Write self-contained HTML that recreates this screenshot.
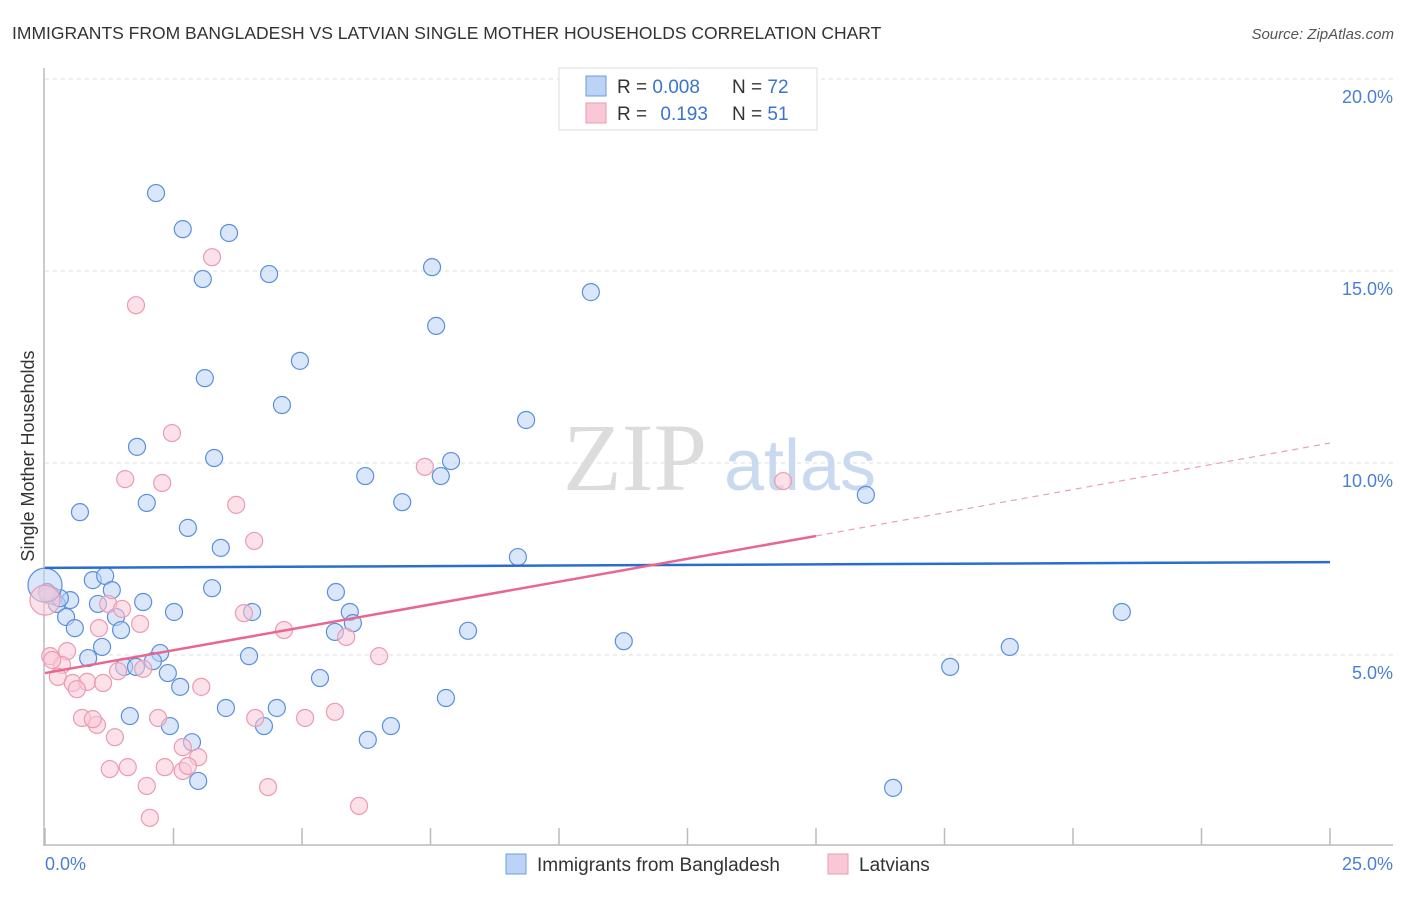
<!DOCTYPE html>
<html><head><meta charset="utf-8"><style>
body{margin:0;background:#fff;font-family:"Liberation Sans",sans-serif;}
svg text{font-family:"Liberation Sans",sans-serif;}
</style></head><body>
<svg id="chart" width="1406" height="892" xmlns="http://www.w3.org/2000/svg">
<text x="12" y="39" font-size="17.5" fill="#333">IMMIGRANTS FROM BANGLADESH VS LATVIAN SINGLE MOTHER HOUSEHOLDS CORRELATION CHART</text>
<text x="1394" y="39" font-size="15" fill="#555" font-style="italic" text-anchor="end">Source: ZipAtlas.com</text>
<g id="grid"></g>
<g id="wm">
<text x="635" y="490" font-family="Liberation Serif" font-size="96" fill="#dcdcdc" text-anchor="middle" style="font-family:'Liberation Serif',serif">ZIP</text>
<text x="800" y="490" font-size="72" fill="#c9d9f0" text-anchor="middle">atlas</text>
</g>
<g id="axes"></g>
<g id="pts"></g>
<g id="trends"></g>
<text x="34" y="456" font-size="18" fill="#333" text-anchor="middle" transform="rotate(-90 34 456)">Single Mother Households</text>
<text x="45" y="870" font-size="18" fill="#4a7fd4">0.0%</text>
<text x="1393" y="870" font-size="18" fill="#4a7fd4" text-anchor="end">25.0%</text>
<g>
<rect x="559" y="68" width="258" height="62" fill="#fff" stroke="#ddd"/>
<rect x="586" y="76" width="20" height="20" fill="#bcd3f5" stroke="#6a9be0"/>
<rect x="586" y="103" width="20" height="20" fill="#f9c8d6" stroke="#ec9ab3"/>
<text x="617" y="93" font-size="19" fill="#333">R = <tspan fill="#3a73d0">0.008</tspan></text>
<text x="732" y="93" font-size="19" fill="#333">N = <tspan fill="#3a73d0">72</tspan></text>
<text x="617" y="120" font-size="19" fill="#333">R = <tspan fill="#3a73d0" dx="8">0.193</tspan></text>
<text x="732" y="120" font-size="19" fill="#333">N = <tspan fill="#3a73d0">51</tspan></text>
</g>
<g>
<rect x="506" y="854" width="20" height="20" fill="#bcd3f5" stroke="#6a9be0"/>
<text x="537" y="871" font-size="19" fill="#333">Immigrants from Bangladesh</text>
<rect x="828" y="854" width="20" height="20" fill="#f9c8d6" stroke="#ec9ab3"/>
<text x="859" y="871" font-size="19" fill="#333">Latvians</text>
</g>
</svg>
<script>
const yTicks=[5,10,15,20];
const xTicks=[0,2.5,5,7.5,10,12.5,15,17.5,20,22.5,25];
const blueX=[2.16,2.68,3.58,3.07,4.36,7.53,7.61,10.62,4.96,3.11,4.61,9.36,1.79,3.29,7.90,6.23,7.70,0.68,1.98,6.95,15.97,2.78,3.42,9.20,0.93,1.17,1.30,3.25,5.66,0.14,0.49,0.23,1.03,1.91,2.51,4.03,5.93,20.95,0.41,1.38,0.58,1.48,5.64,5.99,8.23,11.26,1.11,18.77,0.84,2.24,3.97,2.10,1.54,1.77,17.61,2.39,2.63,5.35,7.80,1.65,3.52,4.51,2.43,4.26,6.73,2.86,6.28,2.98,16.50,0.29,0.04];
const blueY=[17.03,16.09,15.99,14.79,14.92,15.10,13.57,14.45,12.66,12.21,11.51,11.12,10.42,10.13,10.05,9.66,9.66,8.72,8.96,8.98,9.17,8.31,7.79,7.55,6.95,7.06,6.69,6.74,6.64,6.54,6.43,6.33,6.33,6.38,6.12,6.12,6.12,6.12,5.99,5.99,5.70,5.65,5.60,5.83,5.63,5.36,5.21,5.21,4.92,5.05,4.97,4.84,4.69,4.69,4.69,4.53,4.17,4.40,3.88,3.41,3.62,3.62,3.15,3.15,3.15,2.73,2.79,1.72,1.54,6.48,6.64];
const pinkX=[3.25,1.77,2.47,1.56,2.28,3.72,4.07,7.39,14.36,0.06,1.23,1.50,1.85,1.05,3.87,4.65,5.86,6.50,0.43,0.10,0.33,0.25,0.54,0.82,0.62,1.13,1.42,1.91,3.04,0.72,1.01,0.93,1.36,2.20,2.68,2.98,4.09,5.06,5.64,1.26,1.61,2.33,2.68,2.78,1.98,4.34,6.11,2.04,0.14];
const pinkY=[15.36,14.11,10.78,9.58,9.48,8.91,7.97,9.90,9.53,6.56,6.33,6.20,5.81,5.70,6.09,5.65,5.47,4.97,5.10,4.97,4.74,4.43,4.27,4.30,4.11,4.27,4.58,4.64,4.17,3.36,3.18,3.33,2.86,3.36,2.60,2.34,3.36,3.36,3.52,2.03,2.08,2.08,1.98,2.11,1.59,1.56,1.07,0.76,4.87];
const bigBlue=[0,6.82], bigPink=[0,6.43];
const blueTrend=[7.27,7.42];
const pinkTrend=[4.53,8.10,10.52];
const pinkSolidEnd=15;
const NS="http://www.w3.org/2000/svg";
const X=v=>45+v/25*1285, Y=v=>847-v*38.4;
function mk(tag,attrs,parent){const e=document.createElementNS(NS,tag);for(const k in attrs)e.setAttribute(k,attrs[k]);parent.appendChild(e);return e;}
const grid=document.getElementById('grid'),axes=document.getElementById('axes'),pts=document.getElementById('pts'),tr=document.getElementById('trends');
yTicks.forEach(t=>{
 const l=mk('line',{x1:45,x2:1393,y1:Y(t),y2:Y(t),stroke:'#ddd','stroke-dasharray':'4,4'},grid);
 
 
 const tx=mk('text',{x:1393,y:Y(t)+24,'font-size':18,fill:'#4a7fd4','text-anchor':'end'},grid);
 tx.textContent=t.toFixed(1)+'%';
 
 
});
mk('line',{x1:44,x2:44,y1:68,y2:846,stroke:'#bbb','stroke-width':1.5},axes);
mk('line',{x1:44,x2:1393,y1:845,y2:845,stroke:'#bbb','stroke-width':1.5},axes);
xTicks.forEach(t=>{
 const l=mk('line',{x1:X(t),x2:X(t),y1:828,y2:845,stroke:'#bbb','stroke-width':1.5},axes);
 
 
});
function dot(x,y,r,fill,stroke,name){
 const c=mk('circle',{cx:X(x),cy:Y(y),r:r,fill:fill,'fill-opacity':0.55,stroke:stroke,'stroke-width':1.2},pts);
 
 
}
blueX.forEach((x,i)=>dot(x,blueY[i],8.5,'#bcd3f5','#5b8fdc','point-bangladesh'));
pinkX.forEach((x,i)=>dot(x,pinkY[i],8.5,'#f9c8d6','#ec9ab3','point-latvians'));
dot(bigBlue[0],bigBlue[1],17,'#bcd3f5','#5b8fdc','point-bangladesh-large');
dot(bigPink[0],bigPink[1],15,'#f9c8d6','#ec9ab3','point-latvians-large');
const b=mk('line',{x1:X(0),x2:X(25),y1:Y(blueTrend[0]),y2:Y(blueTrend[1]),stroke:'#2a6dd0','stroke-width':2.5},tr);


const p=mk('line',{x1:X(0),x2:X(pinkSolidEnd),y1:Y(pinkTrend[0]),y2:Y(pinkTrend[1]),stroke:'#e8668f','stroke-width':2.5},tr);


const pd=mk('line',{x1:X(pinkSolidEnd),x2:X(25),y1:Y(pinkTrend[1]),y2:Y(pinkTrend[2]),stroke:'#e8a0b6','stroke-width':1.2,'stroke-dasharray':'6,5'},tr);


</script>
</body></html>
